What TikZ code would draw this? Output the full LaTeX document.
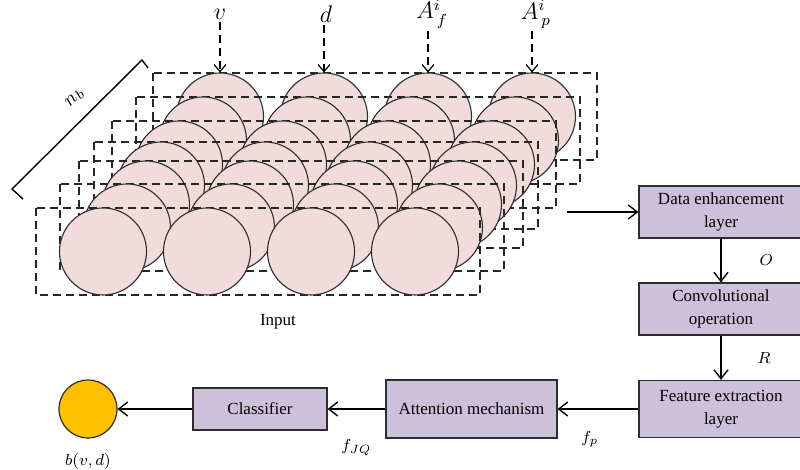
\documentclass[tikz,border=0pt]{standalone}
\usepackage{fontspec}
\setmainfont{Liberation Serif}
\usepackage{amsmath}
\usetikzlibrary{arrows.meta,positioning}

\definecolor{ballpink}{RGB}{242,220,219}
\definecolor{boxpurple}{RGB}{204,192,218}
\definecolor{outyellow}{RGB}{255,192,0}
\definecolor{edgegray}{RGB}{45,45,45}

\begin{document}
\begin{tikzpicture}[
    x=0.5pt, y=-0.5pt,
    box/.style={rectangle, draw=edgegray, fill=boxpurple, line width=0.6pt, minimum width=82pt, minimum height=26pt, align=center, font=\fontsize{8.5}{11.5}\selectfont, inner sep=1pt},
    ball/.style={circle, draw=edgegray, fill=ballpink, line width=0.55pt, minimum size=43.5pt, inner sep=0pt},
    layer/.style={draw=black!85, dash pattern=on 4pt off 2.5pt, line width=0.65pt},
    arrow/.style={-{Straight Barb[length=4.5pt,width=7pt]}, line width=0.7pt},
    inarrow/.style={-{Straight Barb[length=3.5pt,width=6pt]}, dash pattern=on 4pt off 2.5pt, line width=0.6pt},
    lbl/.style={font=\fontsize{8}{10}\selectfont, inner sep=1pt},
    toplbl/.style={font=\fontsize{11.5}{13}\selectfont, inner sep=1pt}
]
    \useasboundingbox (0,0) rectangle (800,470);

    % stacked input layers, back to front
    \foreach \k/\dx/\dy in {0/0/0,1/-17/24,2/-41/48,3/-59/69,4/-74/88,5/-93/111,6/-117/135} {
        \begin{scope}[shift={(\dx,\dy)}]
            \draw[layer] (153,73) rectangle (597,160);
            \foreach \j/\cx in {1/220,2/324,3/428,4/532}
                \node[ball] (c\k-\j) at (\cx,116.5) {};
        \end{scope}
    }

    \node[toplbl] (lv) at (220,14) {$v$};
    \node[toplbl] (ld) at (326,14) {$d$};
    \node[toplbl] (laf) at (432,14) {$A^{i}_{\,f}$};
    \node[toplbl] (lap) at (536,14) {$A^{i}_{\,p}$};
    \draw[inarrow] (lv) -- (c0-1);
    \draw[inarrow] (ld.south -| c0-2) -- (c0-2);
    \draw[inarrow] (laf.south -| c0-3) -- (c0-3);
    \draw[inarrow] (lap.south -| c0-4) -- (c0-4);

    \draw[line width=0.7pt] (148,68) -- (142,60) -- (12,189) -- (23,199);
    \node[toplbl, font=\fontsize{10}{12}\selectfont, rotate=45] (nb) at (75,98) {$n_b$};
    \node[font=\fontsize{8.5}{10}\selectfont] (input) at (278,322) {Input};

    \node[box] (enh) at (721,212) {Data enhancement\\layer};
    \node[box] (conv) at (721,309) {Convolutional\\operation};
    \node[box, minimum height=28.5pt] (feat) at (721,409) {Feature extraction\\layer};
    \node[box, minimum width=85.5pt, minimum height=29pt] (att) at (471.5,409) {Attention mechanism};
    \node[box, minimum width=67pt, minimum height=21pt] (cls) at (260,409) {Classifier};
    \node[circle, draw=edgegray, fill=outyellow, line width=0.6pt, minimum size=29pt, inner sep=0pt] (out) at (88,409) {};
    \node[font=\fontsize{8.5}{10}\selectfont, below=4pt of out] (bvd) {$b(v,d)$};

    \coordinate (src) at (567,212);
    \draw[arrow] (src) -- (enh);
    \draw[arrow] (enh) -- node[lbl, right=18pt] {$O$} (conv);
    \draw[arrow] (conv) -- node[lbl, right=17pt] {$R$} (feat);
    \draw[arrow] (feat) -- node[lbl, pos=0.6, below=10pt] {$f_p$} (att);
    \draw[arrow] (att) -- node[lbl, below=14pt] {$f_{JQ}$} (cls);
    \draw[arrow] (cls) -- (out);
\end{tikzpicture}
\end{document}
